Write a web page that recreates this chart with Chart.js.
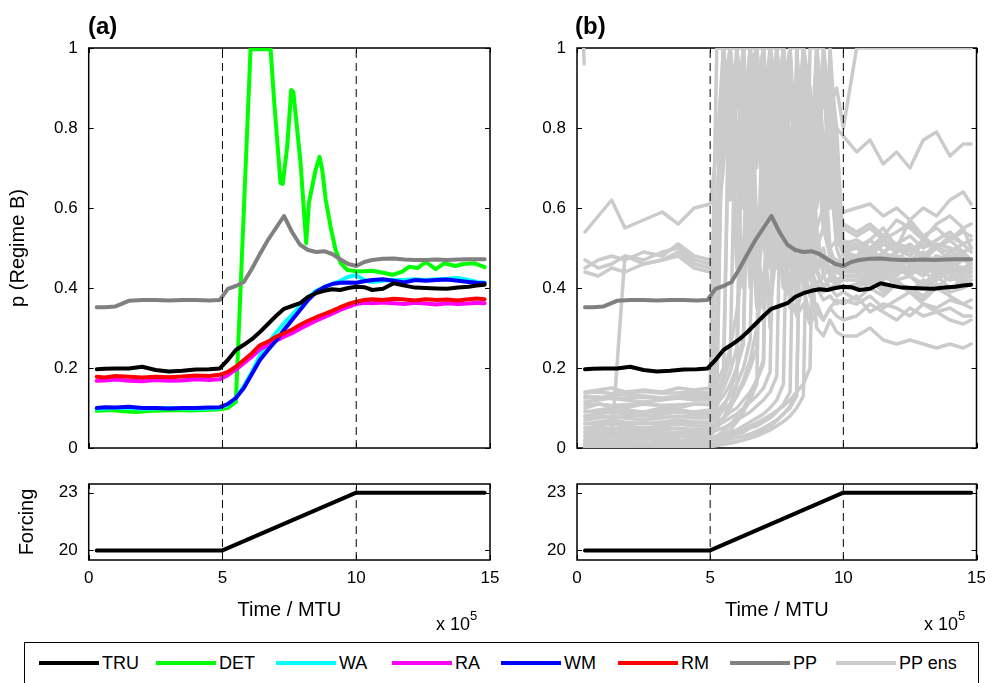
<!DOCTYPE html>
<html><head><meta charset="utf-8">
<script src="https://cdn.jsdelivr.net/npm/chart.js@4/dist/chart.umd.min.js"></script>
<style>
html,body{margin:0;padding:0;background:#fff}
body{width:985px;height:683px;overflow:hidden;position:relative;font-family:"Liberation Sans",Arial,Helvetica,sans-serif;color:#000}
canvas{position:absolute;left:0;top:0}
.lbl{position:absolute;font-weight:bold;font-size:24px;line-height:24px}
.xpow{position:absolute;font-size:18px;line-height:18px;white-space:nowrap}
.xpow sup{font-size:13px;position:relative;top:-3px}
#legend{position:absolute;left:24px;top:642px;width:955px;height:42px;border:1px solid #000;box-sizing:border-box;background:#fff}
.li{position:absolute;top:0;height:40px;font-family:"Liberation Sans Narrow","Liberation Sans",Arial,sans-serif;font-size:18px;line-height:40px;white-space:nowrap}
.li span.ln{display:inline-block;width:60px;height:4px;vertical-align:middle;margin-right:3px;position:relative;top:-1px}
</style></head>
<body>
<canvas id="ca" width="985" height="683"></canvas>
<canvas id="cb" width="985" height="683"></canvas>
<canvas id="cc" width="985" height="683"></canvas>
<canvas id="cd" width="985" height="683"></canvas>
<div class="lbl" style="left:88px;top:14px">(a)</div>
<div class="lbl" style="left:575px;top:14px">(b)</div>
<div class="xpow" style="left:436px;top:610px">x 10<sup>5</sup></div>
<div class="xpow" style="left:924px;top:610px">x 10<sup>5</sup></div>
<div id="legend"></div>
<script>
// ---------------- data ----------------
const timeTicks = [0, 5, 10, 15];
const regimeTicks = [0, 0.2, 0.4, 0.6, 0.8, 1];
const forcingTicks = [20, 23];
const boundaryTimes = [5, 10];

const timeGrid = [0.3,0.6,1,1.5,2,2.5,3,3.5,4,4.5,4.9,5.2,5.5,5.8,6.1,6.4,6.7,7,7.3,7.6,7.9,8.2,8.5,8.8,9.1,9.4,9.7,10,10.3,10.6,11,11.4,11.8,12.2,12.6,13,13.4,13.8,14.2,14.5,14.8];
const tru = [0.197,0.198,0.199,0.199,0.203,0.195,0.191,0.193,0.196,0.197,0.199,0.22,0.245,0.258,0.272,0.29,0.31,0.33,0.348,0.355,0.362,0.378,0.387,0.393,0.397,0.395,0.4,0.403,0.402,0.395,0.398,0.412,0.406,0.401,0.4,0.399,0.398,0.401,0.403,0.406,0.408];
const rm  = [0.178,0.176,0.18,0.178,0.176,0.178,0.177,0.179,0.181,0.18,0.183,0.19,0.203,0.22,0.237,0.257,0.266,0.278,0.287,0.296,0.308,0.318,0.327,0.335,0.343,0.352,0.36,0.366,0.37,0.372,0.37,0.373,0.371,0.369,0.372,0.37,0.371,0.369,0.372,0.374,0.372];
const ra  = [0.168,0.169,0.171,0.168,0.167,0.17,0.168,0.169,0.172,0.17,0.172,0.182,0.196,0.212,0.228,0.247,0.257,0.268,0.278,0.287,0.298,0.308,0.318,0.327,0.336,0.345,0.353,0.36,0.363,0.362,0.364,0.362,0.36,0.363,0.361,0.359,0.362,0.36,0.361,0.363,0.362];
const wm  = [0.1,0.102,0.101,0.103,0.1,0.1,0.099,0.1,0.1,0.101,0.102,0.11,0.125,0.15,0.185,0.22,0.245,0.268,0.295,0.32,0.345,0.37,0.39,0.402,0.41,0.413,0.414,0.413,0.417,0.42,0.422,0.418,0.414,0.42,0.418,0.42,0.421,0.418,0.415,0.413,0.412];
const wa  = [0.098,0.099,0.1,0.1,0.098,0.099,0.1,0.099,0.098,0.099,0.1,0.108,0.125,0.155,0.19,0.232,0.262,0.288,0.312,0.333,0.355,0.375,0.393,0.402,0.41,0.418,0.428,0.432,0.42,0.415,0.418,0.42,0.42,0.422,0.42,0.422,0.423,0.425,0.42,0.415,0.414];
const pp  = [0.352,0.352,0.354,0.368,0.37,0.37,0.369,0.37,0.37,0.369,0.37,0.398,0.405,0.415,0.448,0.485,0.52,0.55,0.58,0.54,0.508,0.495,0.49,0.492,0.485,0.472,0.46,0.455,0.465,0.47,0.473,0.474,0.471,0.47,0.47,0.471,0.47,0.471,0.472,0.472,0.472];

const detTime   = [0.3,0.8,1.3,1.8,2.3,2.8,3.3,3.8,4.3,4.8,5.2,5.5,6.05,6.8,6.92,7.17,7.25,7.42,7.57,7.65,7.92,8.13,8.23,8.48,8.63,8.73,8.86,9.05,9.23,9.42,9.67,10.1,10.6,11,11.35,11.72,11.97,12.3,12.6,12.97,13.3,13.7,14,14.4,14.8];
const detValues = [0.093,0.095,0.092,0.09,0.093,0.094,0.095,0.094,0.095,0.096,0.1,0.115,0.997,0.997,0.878,0.662,0.66,0.753,0.895,0.89,0.712,0.512,0.612,0.695,0.728,0.695,0.62,0.55,0.495,0.462,0.445,0.441,0.443,0.438,0.433,0.441,0.453,0.45,0.465,0.447,0.462,0.455,0.46,0.462,0.452];

const forcingTime = [0.3, 5, 10, 14.8];
const forcingValues = [20, 20, 23, 23];

// PP ensemble members (panel b)
const ensTime = [0.3,0.8,1.3,1.8,2.5,3.2,3.8,4.4,5,5.25,5.5,5.75,6,6.25,6.5,6.75,7,7.25,7.5,7.75,8,8.25,8.5,8.75,9,9.25,9.5,9.75,10,10.5,11,11.5,12,12.5,13,13.5,14,14.5,14.8];
const ens01 = [0.14,0.145,0.15,0.14,0.145,0.14,0.15,0.145,0.15, 1,1,0.62,1,0.85,0.45,0.9,1,0.7,0.5,0.75,0.6,0.45,0.5,0.47,0.44,0.48,0.45,0.46,0.44, 0.46,0.48,0.45,0.47,0.44,0.46,0.48,0.45,0.47,0.46];
const ens02 = [0.13,0.125,0.13,0.135,0.13,0.125,0.13,0.135,0.13, 0.18,1,1,0.7,0.4,0.95,1,0.65,0.8,0.5,0.85,0.6,0.75,0.45,0.6,0.8,0.55,0.7,0.5,0.45, 0.44,0.42,0.45,0.43,0.46,0.44,0.42,0.45,0.43,0.44];
const ens03 = [0.115,0.12,0.125,0.12,0.115,0.12,0.125,0.12,0.12, 0.16,0.2,1,1,0.75,1,0.5,0.7,1,0.9,0.55,0.7,0.9,0.6,0.5,0.85,0.6,0.9,0.65,0.49, 0.48,0.5,0.47,0.49,0.51,0.48,0.5,0.47,0.49,0.5];
const ens04 = [0.1,0.11,0.105,0.1,0.11,0.105,0.1,0.11,0.11, 0.14,0.17,0.22,1,1,0.6,0.35,0.8,1,0.55,0.4,0.65,0.45,0.5,0.42,0.45,0.4,0.43,0.41,0.42, 0.42,0.4,0.43,0.41,0.39,0.42,0.4,0.43,0.41,0.42];
const ens05 = [0.09,0.095,0.1,0.095,0.09,0.1,0.095,0.09,0.095, 0.12,0.15,0.19,0.25,1,1,0.8,1,0.65,0.85,1,0.75,0.6,0.7,0.55,0.7,1,0.8,0.6,0.5, 0.5,0.52,0.49,0.51,0.53,0.5,0.52,0.54,0.51,0.52];
const ens06 = [0.08,0.085,0.09,0.085,0.08,0.085,0.09,0.085,0.085, 0.11,0.13,0.16,0.2,0.26,1,1,0.55,0.3,0.9,0.7,0.5,0.62,0.48,0.5,0.45,0.47,0.44,0.46,0.45, 0.45,0.47,0.44,0.46,0.45,0.43,0.46,0.44,0.45,0.46];
const ens07 = [0.07,0.075,0.08,0.075,0.07,0.075,0.08,0.075,0.075, 0.09,0.11,0.13,0.16,0.2,0.27,1,1,0.7,0.45,0.9,1,0.6,0.4,0.5,0.44,0.4,0.42,0.41,0.4, 0.41,0.43,0.4,0.42,0.39,0.41,0.43,0.4,0.42,0.41];
const ens08 = [0.06,0.065,0.07,0.065,0.06,0.065,0.07,0.065,0.065, 0.08,0.095,0.11,0.13,0.16,0.2,0.25,1,1,0.85,1,0.65,0.9,0.75,0.6,0.85,0.95,0.7,0.62,0.56, 0.54,0.56,0.53,0.57,0.55,0.52,0.56,0.58,0.55,0.56];
const ens09 = [0.05,0.055,0.06,0.055,0.05,0.055,0.06,0.055,0.055, 0.065,0.075,0.09,0.1,0.12,0.14,0.17,0.21,1,1,0.6,0.35,0.8,1,0.7,0.5,0.55,0.48,0.47,0.46, 0.47,0.45,0.48,0.46,0.47,0.49,0.46,0.48,0.47,0.46];
const ens10 = [0.04,0.045,0.05,0.045,0.04,0.045,0.05,0.045,0.045, 0.055,0.065,0.075,0.085,0.1,0.115,0.13,0.15,0.19,1,1,0.7,0.5,0.85,0.6,0.45,0.5,0.43,0.44,0.43, 0.43,0.44,0.42,0.45,0.43,0.41,0.44,0.42,0.43,0.44];
const ens11 = [0.03,0.035,0.04,0.035,0.03,0.035,0.04,0.035,0.035, 0.045,0.05,0.06,0.07,0.08,0.09,0.105,0.12,0.14,0.18,1,0.6,0.35,0.4,0.33,0.36,0.32,0.35,0.37,0.36, 0.38,0.34,0.36,0.35,0.33,0.36,0.34,0.35,0.33,0.33];
const ens12 = [0.02,0.025,0.03,0.025,0.02,0.025,0.03,0.025,0.025, 0.03,0.035,0.04,0.045,0.055,0.065,0.075,0.085,0.1,0.12,0.16,1,1,0.75,0.9,0.65,0.95,0.75,0.62,0.59, 0.6,0.61,0.58,0.6,0.57,0.6,0.58,0.62,0.64,0.61];
const ens13 = [0.01,0.015,0.02,0.015,0.01,0.015,0.02,0.015,0.015, 0.02,0.025,0.03,0.035,0.04,0.05,0.055,0.065,0.075,0.09,0.11,0.14,1,1,0.8,0.55,0.6,0.5,0.52,0.49, 0.5,0.48,0.51,0.49,0.5,0.47,0.5,0.49,0.51,0.49];
const ens14 = [0.005,0.01,0.012,0.01,0.008,0.01,0.012,0.01,0.01, 0.015,0.018,0.022,0.026,0.03,0.035,0.042,0.05,0.06,0.07,0.085,0.1,0.13,1,0.5,0.3,0.28,0.32,0.29,0.28, 0.28,0.3,0.27,0.26,0.27,0.26,0.25,0.26,0.25,0.26];
const ens15 = [0.003,0.005,0.006,0.004,0.005,0.006,0.004,0.005,0.005, 0.008,0.01,0.013,0.016,0.02,0.025,0.03,0.037,0.045,0.055,0.066,0.08,0.1,0.13,1,1,0.85,0.95,0.8,0.78, 0.74,0.77,0.71,0.74,0.7,0.77,0.79,0.73,0.76,0.76];
const ens16 = [0.015,0.02,0.018,0.02,0.022,0.02,0.018,0.02,0.02, 0.025,0.03,0.035,0.04,0.047,0.055,0.063,0.072,0.082,0.093,0.105,0.12,0.14,0.16,0.2,1,1,0.85,0.9,0.8, 1,1,1,1,1,1,1,1,1,1];
const ens17 = [0.54,0.58,0.62,0.55,0.57,0.59,0.56,0.6,0.61, 0.75,1,1,0.8,0.65,0.95,0.7,1,0.8,0.6,0.75,0.55,0.65,0.5,0.58,0.75,0.55,0.95,0.7,0.52, 0.5,0.52,0.49,0.51,0.5,0.48,0.51,0.5,0.49,0.5];
const ens18 = [0.47,0.45,0.46,0.48,0.47,0.49,0.5,0.47,0.46, 0.6,0.9,1,1,0.7,0.5,0.8,0.95,0.6,0.45,0.7,0.5,0.45,0.48,0.44,0.46,0.45,0.44,0.45,0.45, 0.45,0.46,0.44,0.45,0.47,0.45,0.44,0.46,0.45,0.46];
const ens19 = [0.44,0.43,0.45,0.44,0.46,0.47,0.48,0.45,0.44, 0.5,0.75,1,0.85,1,0.6,0.4,0.55,0.75,1,0.8,0.55,0.4,0.45,0.38,0.41,0.39,0.4,0.38,0.39, 0.37,0.4,0.38,0.41,0.39,0.37,0.4,0.38,0.36,0.37];
const ens20 = [0.45,0.47,0.48,0.47,0.49,0.48,0.51,0.48,0.47, 0.55,0.7,1,1,1,0.75,1,0.65,0.45,0.7,0.9,0.65,0.5,0.6,0.55,0.9,0.65,0.75,0.55,0.48, 0.48,0.52,0.55,0.5,0.57,0.53,0.5,0.52,0.55,0.5];
const ens21 = [0.02,0.02,0.02,0.48,0.46,0.47,0.49,0.46,0.45, 0.52,0.85,1,1,0.6,0.9,1,0.55,0.35,0.5,0.42,0.38,0.33,0.36,0.31,0.34,0.32,0.35,0.33,0.32, 0.33,0.36,0.34,0.32,0.35,0.33,0.34,0.32,0.31,0.32];
const ens22 = [0.002,0.003,0.002,0.004,0.003,0.002,0.003,0.004,0.003, 0.006,0.009,0.012,0.016,0.021,0.027,0.034,0.043,0.054,0.068,0.085,0.105,0.14,1,0.9,0.6,0.75,0.5,0.45,0.44, 0.44,0.46,0.43,0.45,0.44,0.46,0.43,0.45,0.44,0.45];
const ens23 = [0.012,0.01,0.014,0.012,0.01,0.013,0.012,0.011,0.012, 0.02,0.03,0.045,0.065,0.09,0.12,0.16,1,1,0.55,0.85,1,0.7,0.5,0.62,0.45,0.48,0.44,0.46,0.45, 0.46,0.44,0.47,0.45,0.43,0.46,0.45,0.47,0.44,0.45];
const ens24 = [0.03,0.028,0.032,0.03,0.027,0.03,0.033,0.03,0.03, 0.05,0.075,0.11,0.15,1,0.65,1,0.8,0.45,0.75,1,0.6,0.5,0.7,0.48,0.5,0.46,0.47,0.45,0.46, 0.47,0.45,0.46,0.48,0.46,0.44,0.47,0.46,0.48,0.47];
const ens25 = [0.048,0.05,0.046,0.05,0.047,0.05,0.048,0.046,0.048, 0.07,0.1,0.14,0.2,0.28,1,1,0.6,0.9,0.5,0.8,0.55,0.95,0.65,0.5,0.55,0.43,0.45,0.42,0.43, 0.43,0.41,0.44,0.42,0.43,0.4,0.42,0.44,0.42,0.43];
const ens26 = [0.062,0.06,0.064,0.06,0.063,0.06,0.062,0.064,0.062, 0.1,0.16,1,1,0.7,0.4,0.85,1,0.6,0.45,0.7,0.5,0.8,0.55,0.46,0.49,0.47,0.48,0.46,0.47, 0.48,0.46,0.49,0.47,0.5,0.48,0.46,0.49,0.48,0.47];
const ens27 = [0.078,0.08,0.076,0.078,0.081,0.077,0.078,0.08,0.078, 0.13,1,1,0.5,0.8,1,0.55,0.35,0.7,1,0.6,0.45,0.55,0.42,0.45,0.41,0.43,0.4,0.41,0.4, 0.4,0.42,0.39,0.41,0.4,0.38,0.41,0.39,0.4,0.41];
const ens28 = [0.092,0.09,0.094,0.092,0.089,0.093,0.092,0.09,0.092, 0.13,0.18,0.25,0.34,0.48,1,1,0.75,1,0.85,0.55,0.9,0.65,0.8,0.6,1,0.75,0.85,0.6,0.5, 0.51,0.49,0.52,0.5,0.48,0.51,0.5,0.52,0.49,0.5];
const ens29 = [0.108,0.11,0.106,0.108,0.111,0.107,0.108,0.11,0.108, 0.25,1,0.75,1,0.6,0.9,0.4,0.65,1,0.7,0.45,0.6,0.42,0.46,0.38,0.4,0.37,0.38,0.36,0.37, 0.36,0.38,0.35,0.37,0.39,0.36,0.35,0.37,0.36,0.35];
const ens30 = [0.125,0.128,0.123,0.125,0.127,0.124,0.126,0.128,0.125, 0.35,1,1,0.65,0.95,0.7,1,0.8,0.5,0.9,0.65,0.8,0.55,0.62,0.5,0.65,0.95,0.6,0.8,0.48, 0.47,0.49,0.46,0.48,0.47,0.45,0.48,0.47,0.49,0.47];
const ens31 = [0.138,0.14,0.136,0.138,0.141,0.137,0.138,0.14,0.138, 0.6,1,0.8,0.45,0.75,1,0.9,0.6,1,0.75,0.5,0.7,0.85,0.55,0.65,0.8,0.6,1,0.75,0.51, 0.52,0.5,0.53,0.51,0.49,0.52,0.5,0.53,0.51,0.52];
const ens32 = [0.02,0.022,0.019,0.021,0.02,0.022,0.02,0.019,0.021, 0.03,0.042,0.058,0.078,0.1,0.13,0.17,0.22,1,1,0.8,1,0.6,0.9,0.7,1,0.75,0.6,0.65,0.55, 0.53,0.55,0.52,0.54,0.56,0.53,0.55,0.52,0.54,0.53];
const ens33 = [0.038,0.04,0.036,0.039,0.04,0.037,0.038,0.04,0.038, 0.055,0.075,0.1,0.13,0.17,0.22,0.3,0.42,0.6,1,1,0.7,0.95,0.6,0.8,0.5,0.45,0.48,0.44,0.45, 0.45,0.43,0.46,0.44,0.45,0.47,0.44,0.46,0.45,0.44];
const ensShortTime = [0.25, 0.27];
const ensShortValues = [1, 0.96];
const ensembleMembers = [ens01,ens02,ens03,ens04,ens05,ens06,ens07,ens08,ens09,ens10,ens11,ens12,ens13,ens14,ens15,ens16,ens17,ens18,ens19,ens20,ens21,ens22,ens23,ens24,ens25,ens26,ens27,ens28,ens29,ens30,ens31,ens32,ens33];

const seriesNames = ['TRU','DET','WA','RA','WM','RM','PP','PP ens'];
const seriesColors = ['#000000','#00ff00','#00ffff','#ff00ff','#0000ff','#ff0000','#808080','#cbcbcb'];

// ---------------- helpers ----------------
const pts = (xs, ys) => xs.map((x, i) => ({x, y: ys[i]}));
const lineDs = (xs, ys, color, w) => ({data: pts(xs, ys), borderColor: color, borderWidth: w, pointRadius: 0, tension: 0, fill: false, borderJoinStyle: 'round', borderCapStyle: 'round'});
const dashDs = (t, lo, hi) => ({data: [{x: t, y: lo}, {x: t, y: hi}], borderColor: '#000', borderWidth: 1, borderDash: [8, 5], pointRadius: 0, fill: false});

Chart.defaults.font.family = '"Liberation Sans", Arial, Helvetica, sans-serif';
Chart.defaults.color = '#000';

const frame = {
  id: 'frame',
  beforeDatasetsDraw(chart, args, opts) {
    const {ctx, chartArea: a, scales: {x, y}} = chart;
    ctx.save();
    ctx.strokeStyle = '#000';
    ctx.lineWidth = 1;
    ctx.beginPath();
    (opts.yTicks || []).forEach(v => {
      const p = Math.round(y.getPixelForValue(v)) + 0.5;
      ctx.moveTo(a.left, p); ctx.lineTo(a.left + 5, p);
      ctx.moveTo(a.right, p); ctx.lineTo(a.right - 5, p);
    });
    (opts.xTicks || []).forEach(v => {
      const p = Math.round(x.getPixelForValue(v)) + 0.5;
      ctx.moveTo(p, a.top); ctx.lineTo(p, a.top + 5);
      ctx.moveTo(p, a.bottom); ctx.lineTo(p, a.bottom - 5);
    });
    ctx.stroke();
    ctx.lineWidth = 1.5;
    ctx.strokeRect(a.left, a.top, a.right - a.left, a.bottom - a.top);
    ctx.restore();
  }
};

const W = 985, H = 683;
function panel(id, area, o) {
  const yW = area.left - o.padLeft;
  return new Chart(document.getElementById(id), {
    type: 'line',
    data: {datasets: o.datasets},
    options: {
      responsive: false, animation: false, events: [],
      layout: {padding: {left: o.padLeft, top: area.top, right: W - area.right, bottom: H - area.bottom - o.xH}},
      plugins: {legend: {display: false}, tooltip: {enabled: false}, frame: {xTicks: timeTicks, yTicks: o.yTicks}},
      scales: {
        x: {
          type: 'linear', min: 0, max: 15,
          afterBuildTicks: s => { s.ticks = timeTicks.map(v => ({value: v})); },
          ticks: {display: o.xLabels, padding: 8, color: '#000', font: {size: 17}, maxRotation: 0, autoSkip: false, callback: v => String(v)},
          grid: {display: false, drawTicks: false}, border: {display: false},
          title: o.xLabels ? {display: true, text: 'Time / MTU', color: '#000', font: {size: 20}, padding: {top: 0, bottom: 8}} : {display: false},
          afterFit: s => { s.height = o.xH; s.paddingLeft = 0; s.paddingRight = 0; }
        },
        y: {
          type: 'linear', min: o.yMin, max: o.yMax,
          afterBuildTicks: s => { s.ticks = o.yTicks.map(v => ({value: v})); },
          ticks: {padding: 11, color: '#000', font: {size: 17}, autoSkip: false, callback: v => String(v)},
          grid: {display: false, drawTicks: false}, border: {display: false},
          title: o.yTitle ? {display: true, text: o.yTitle, color: '#000', font: {size: 20}, padding: {top: o.yTitlePad, bottom: 0}} : {display: false},
          afterFit: s => { s.width = yW; s.paddingTop = 0; s.paddingBottom = 0; }
        }
      }
    },
    plugins: [frame]
  });
}

// ---------------- panel (a) top ----------------
const dsA = [
  ...boundaryTimes.map(t => dashDs(t, 0, 1)),
  lineDs(timeGrid, tru, seriesColors[0], 4),
  lineDs(timeGrid, pp, seriesColors[6], 4),
  lineDs(timeGrid, rm, seriesColors[5], 4),
  lineDs(timeGrid, wm, seriesColors[4], 4),
  lineDs(timeGrid, ra, seriesColors[3], 4),
  lineDs(timeGrid, wa, seriesColors[2], 4),
  lineDs(detTime, detValues, seriesColors[1], 4)
];
panel('ca', {left: 88.7, right: 490, top: 48, bottom: 448}, {padLeft: 0, xH: 10, yMin: 0, yMax: 1, yTicks: regimeTicks, xLabels: false, yTitle: 'p (Regime B)', yTitlePad: 6, datasets: dsA});

// ---------------- panel (b) top ----------------
const dsB = [
  ...boundaryTimes.map(t => dashDs(t, 0, 1)),
  lineDs(timeGrid, tru, seriesColors[0], 4),
  lineDs(timeGrid, pp, seriesColors[6], 4),
  ...ensembleMembers.map(m => lineDs(ensTime, m, seriesColors[7], 3.5)),
  lineDs(ensShortTime, ensShortValues, seriesColors[7], 3.5)
];
panel('cb', {left: 577, right: 976.5, top: 48, bottom: 448}, {padLeft: 500, xH: 10, yMin: 0, yMax: 1, yTicks: regimeTicks, xLabels: false, yTitle: null, datasets: dsB});

// ---------------- forcing panels ----------------
const dsF = () => [
  ...boundaryTimes.map(t => dashDs(t, 19.5, 23.45)),
  lineDs(forcingTime, forcingValues, '#000', 4)
];
panel('cc', {left: 88.7, right: 490, top: 484, bottom: 560}, {padLeft: 0, xH: 70, yMin: 19.5, yMax: 23.45, yTicks: forcingTicks, xLabels: true, yTitle: 'Forcing', yTitlePad: 15, datasets: dsF()});
panel('cd', {left: 577, right: 976.5, top: 484, bottom: 560}, {padLeft: 500, xH: 70, yMin: 19.5, yMax: 23.45, yTicks: forcingTicks, xLabels: true, yTitle: null, datasets: dsF()});

// ---------------- legend ----------------
const legendX = [14, 131, 251, 367, 476, 593, 705, 811];
const leg = document.getElementById('legend');
seriesNames.forEach((n, i) => {
  const d = document.createElement('div');
  d.className = 'li';
  d.style.left = legendX[i] + 'px';
  d.innerHTML = '<span class="ln" style="background:' + seriesColors[i] + '"></span>' + n;
  leg.appendChild(d);
});
</script>
</body></html>
